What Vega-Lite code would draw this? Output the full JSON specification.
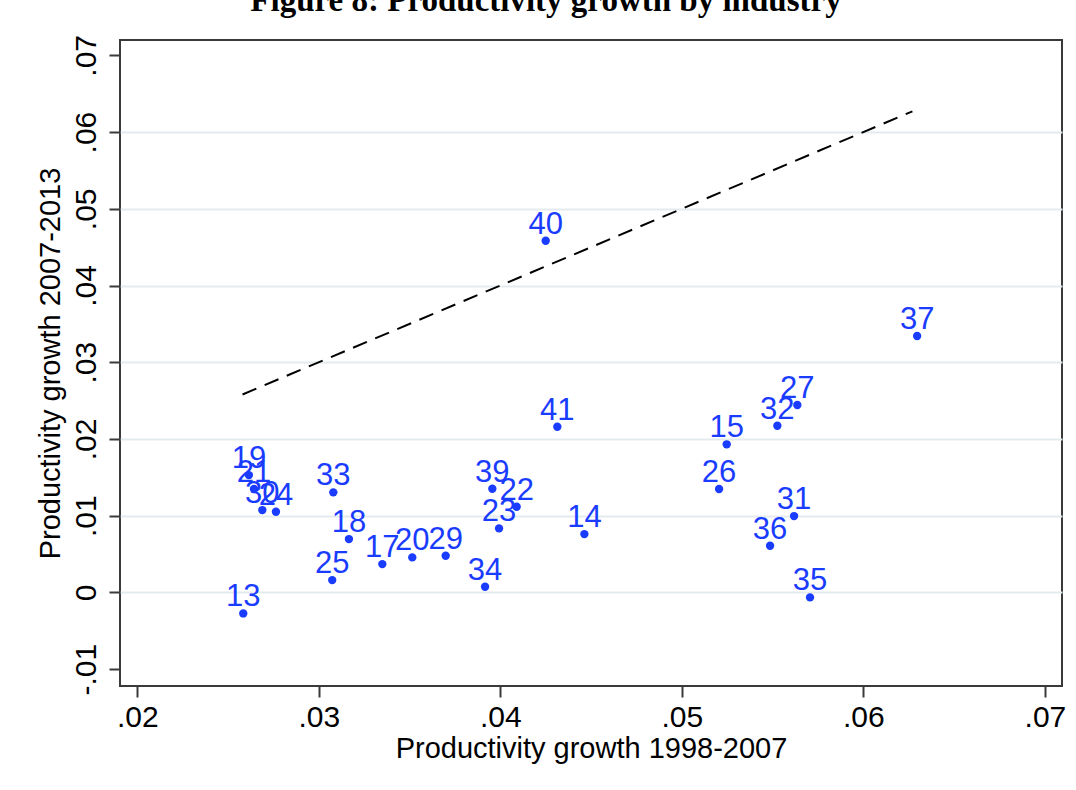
{
  "$schema": "https://vega.github.io/schema/vega-lite/v6.json",
  "autosize": "none",
  "width": 942,
  "height": 646,
  "padding": {"left": 120, "top": 40, "right": 14, "bottom": 104},
  "background": "white",
  "title": {
    "text": "Figure 8: Productivity growth by industry",
    "font": "Liberation Serif",
    "fontWeight": "bold",
    "fontSize": 33,
    "color": "black",
    "anchor": "middle",
    "frame": "group",
    "baseline": "alphabetic",
    "offset": 4,
    "dy": 14,
    "dx": -45
  },
  "datasets": {
    "industries": [
      {"code": "13", "prod_9807": 0.02584, "prod_0713": -0.00274},
      {"code": "14", "prod_9807": 0.04463, "prod_0713": 0.0076},
      {"code": "15", "prod_9807": 0.05247, "prod_0713": 0.0193},
      {"code": "17", "prod_9807": 0.0335, "prod_0713": 0.00369},
      {"code": "18", "prod_9807": 0.03166, "prod_0713": 0.00695},
      {"code": "19", "prod_9807": 0.02615, "prod_0713": 0.01529},
      {"code": "20", "prod_9807": 0.03515, "prod_0713": 0.00456},
      {"code": "21", "prod_9807": 0.02643, "prod_0713": 0.01347},
      {"code": "22", "prod_9807": 0.0409, "prod_0713": 0.01116},
      {"code": "23", "prod_9807": 0.03993, "prod_0713": 0.00834},
      {"code": "24", "prod_9807": 0.02764, "prod_0713": 0.01051},
      {"code": "25", "prod_9807": 0.03074, "prod_0713": 0.0016},
      {"code": "26", "prod_9807": 0.05205, "prod_0713": 0.01347},
      {"code": "27", "prod_9807": 0.05636, "prod_0713": 0.02442},
      {"code": "29", "prod_9807": 0.03699, "prod_0713": 0.00477},
      {"code": "30", "prod_9807": 0.02689, "prod_0713": 0.01073},
      {"code": "31", "prod_9807": 0.05618, "prod_0713": 0.00995},
      {"code": "32", "prod_9807": 0.05526, "prod_0713": 0.02172},
      {"code": "33", "prod_9807": 0.0308, "prod_0713": 0.01304},
      {"code": "34", "prod_9807": 0.03916, "prod_0713": 0.00073},
      {"code": "35", "prod_9807": 0.05706, "prod_0713": -0.00065},
      {"code": "36", "prod_9807": 0.05486, "prod_0713": 0.00608},
      {"code": "37", "prod_9807": 0.06296, "prod_0713": 0.03342},
      {"code": "39", "prod_9807": 0.03956, "prod_0713": 0.01351},
      {"code": "40", "prod_9807": 0.0425, "prod_0713": 0.04584},
      {"code": "41", "prod_9807": 0.04314, "prod_0713": 0.02159}
    ],
    "diagonal": [
      {"prod_9807": 0.0258, "prod_0713": 0.0258},
      {"prod_9807": 0.0627, "prod_0713": 0.0627}
    ]
  },
  "config": {
    "font": "Liberation Sans",
    "view": {"stroke": "#3a3a3a", "strokeWidth": 2},
    "axis": {
      "domain": false,
      "tickSize": 11,
      "tickWidth": 2,
      "tickColor": "#3a3a3a",
      "labelFont": "Liberation Sans",
      "labelFontSize": 30,
      "labelColor": "black",
      "titleFont": "Liberation Sans",
      "titleFontSize": 29,
      "titleFontWeight": "normal",
      "titleColor": "black"
    }
  },
  "encoding": {
    "x": {
      "field": "prod_9807",
      "type": "quantitative",
      "title": "Productivity growth 1998-2007",
      "scale": {"domain": [0.01905, 0.07094], "nice": false, "zero": false},
      "axis": {
        "values": [0.02, 0.03, 0.04, 0.05, 0.06, 0.07],
        "labelExpr": "replace(format(datum.value, '.2f'), '0.', '.')",
        "grid": false,
        "labelPadding": 5,
        "titlePadding": 2
      }
    },
    "y": {
      "field": "prod_0713",
      "type": "quantitative",
      "title": "Productivity growth 2007-2013",
      "scale": {"domain": [-0.0122, 0.072], "nice": false, "zero": false},
      "axis": {
        "values": [-0.01, 0, 0.01, 0.02, 0.03, 0.04, 0.05, 0.06, 0.07],
        "labelExpr": "datum.value == 0 ? '0' : replace(replace(format(datum.value, '.2f'), '0.', '.'), '\u2212', '-')",
        "labelAngle": 270,
        "labelAlign": "center",
        "labelBaseline": "bottom",
        "labelPadding": 8,
        "titlePadding": 6,
        "grid": true,
        "gridColor": "#e3ebee",
        "gridWidth": 2,
        "gridOpacity": {"condition": {"test": "datum.value < -0.005 || datum.value > 0.065", "value": 0}, "value": 1}
      }
    }
  },
  "layer": [
    {
      "data": {"name": "diagonal"},
      "mark": {"type": "line", "color": "black", "strokeWidth": 2, "strokeDash": [15, 9]}
    },
    {
      "data": {"name": "industries"},
      "mark": {"type": "circle", "color": "#1a3cff", "opacity": 1, "size": 70}
    },
    {
      "data": {"name": "industries"},
      "mark": {"type": "text", "color": "#1a3cff", "font": "Liberation Sans", "fontSize": 31, "align": "center", "baseline": "alphabetic", "dy": -7},
      "encoding": {"text": {"field": "code", "type": "nominal"}}
    }
  ]
}
